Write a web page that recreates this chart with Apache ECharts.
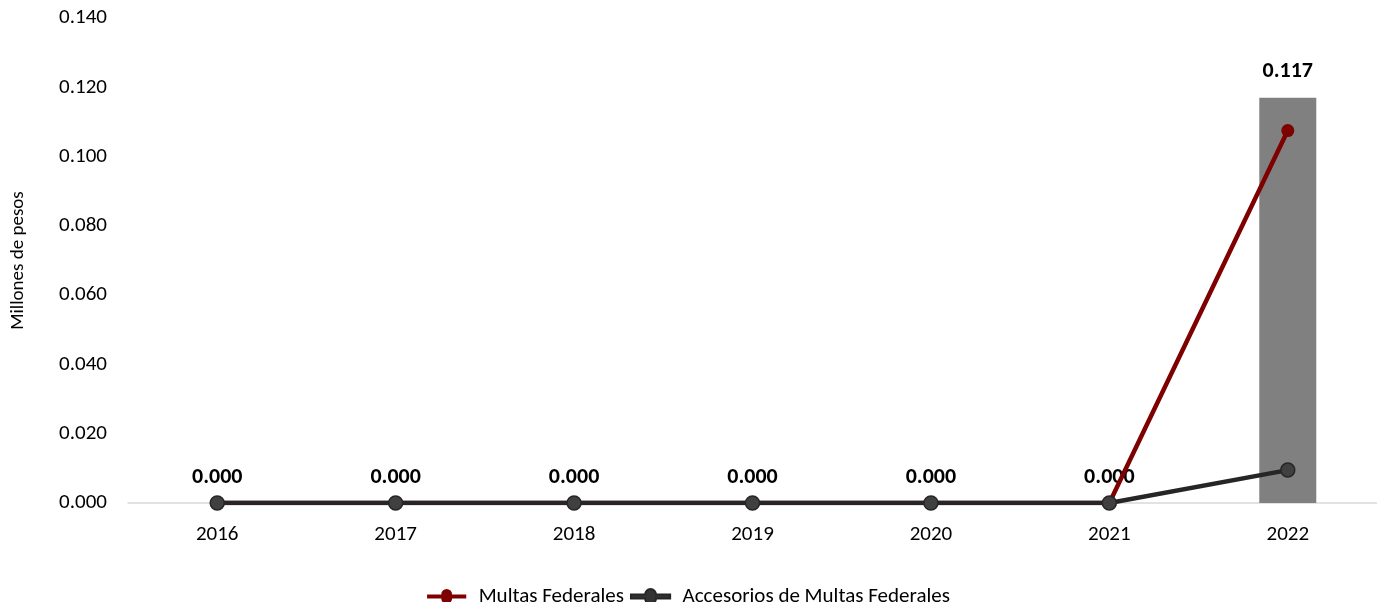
<!DOCTYPE html>
<html><head><meta charset="utf-8">
<script src="https://cdn.jsdelivr.net/npm/echarts@6/dist/echarts.min.js"></script>
<style>html,body{margin:0;padding:0;background:#fff}#c{width:1377px;height:602px}</style>
</head><body><div id="c"></div>
<script>
const categories = ['2016','2017','2018','2019','2020','2021','2022'];
const totalValues = [0, 0, 0, 0, 0, 0, 0.117];
const multasValues = [0, 0, 0, 0, 0, 0, 0.1075];
const accesoriosValues = [0, 0, 0, 0, 0, 0, 0.0095];
const yTicks = {min: 0, max: 0.14, interval: 0.02};

const FONT = 'Carlito, Lato, sans-serif';
const chart = echarts.init(document.getElementById('c'));
const legendIcon = 'path://M0,5 L17,5 A6.5,6.5 0 0 1 30,5 L47,5 L47,10 L30,10 A6.5,6.5 0 0 1 17,10 L0,10 Z';
chart.setOption({
  animation: false,
  textStyle: {fontFamily: FONT},
  grid: {left: 128, right: 0, top: 18, bottom: 99, containLabel: false, outerBoundsMode: 'none'},
  legend: {
    top: 581, left: 'center',
    itemWidth: 48, itemHeight: 15, itemGap: 6,
    textStyle: {fontFamily: FONT, fontSize: 21, color: '#000', padding: [0,0,0,3]},
    data: [
      {name: 'Multas Federales', icon: legendIcon, itemStyle: {color: '#7f0000'}},
      {name: 'Accesorios de Multas Federales', icon: legendIcon, itemStyle: {color: '#333333'}}
    ]
  },
  xAxis: {
    type: 'category', data: categories,
    axisLine: {lineStyle: {color: '#d9d9d9', width: 1.5}},
    axisTick: {show: false},
    axisLabel: {color: '#000', fontSize: 21, fontFamily: FONT, margin: 21}
  },
  yAxis: {
    type: 'value', min: yTicks.min, max: yTicks.max, interval: yTicks.interval,
    name: 'Millones de pesos', nameLocation: 'middle', nameGap: 100, nameRotate: 90,
    nameTextStyle: {color: '#000', fontSize: 19, fontFamily: FONT},
    axisLine: {show: false}, axisTick: {show: false}, splitLine: {show: false},
    axisLabel: {color: '#000', fontSize: 21, fontFamily: FONT, margin: 21,
      formatter: v => v.toFixed(3)}
  },
  series: [
    {
      name: 'Total', type: 'bar', data: totalValues, barWidth: 57,
      itemStyle: {color: '#808080'},
      label: {show: true, position: 'top', distance: 15, fontWeight: 'bold', fontSize: 22,
        color: '#000', fontFamily: FONT, formatter: p => p.value.toFixed(3)}
    },
    {
      name: 'Multas Federales', type: 'line', data: multasValues,
      symbol: 'circle', symbolSize: 13,
      lineStyle: {color: '#7f0000', width: 4.5},
      itemStyle: {color: '#7f0000'}
    },
    {
      name: 'Accesorios de Multas Federales', type: 'line', data: accesoriosValues,
      symbol: 'circle', symbolSize: 14,
      lineStyle: {color: '#262626', width: 4.5},
      itemStyle: {color: '#404040', borderColor: '#262626', borderWidth: 1.5}
    }
  ]
});
</script></body></html>
